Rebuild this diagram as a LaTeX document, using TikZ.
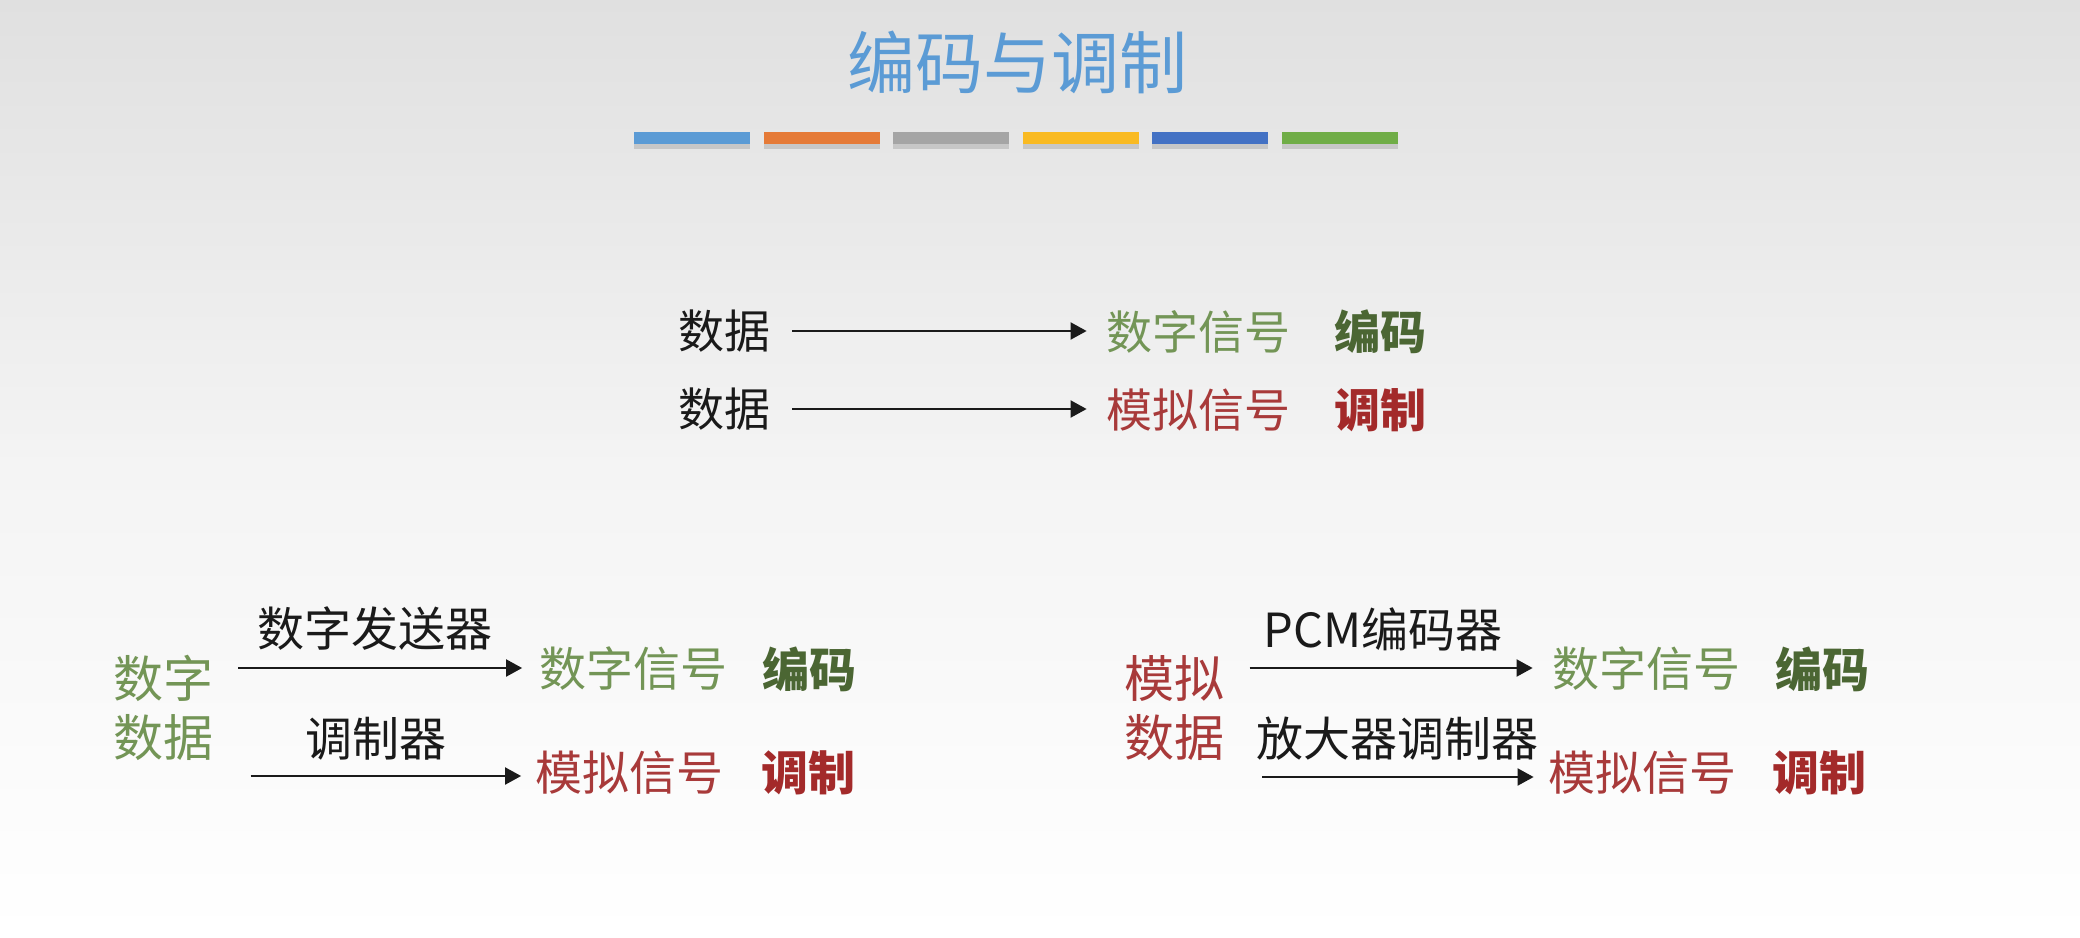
\documentclass[tikz,border=0pt]{standalone}
\usepackage{fontspec}
\setmainfont{Noto Sans CJK SC}
\usetikzlibrary{arrows.meta,shadows}
\definecolor{tblue}{HTML}{5B9BD5}
\definecolor{bar1}{HTML}{5B9BD5}
\definecolor{bar2}{HTML}{E57A37}
\definecolor{bar3}{HTML}{A5A5A5}
\definecolor{bar4}{HTML}{F9BA22}
\definecolor{bar5}{HTML}{4472C4}
\definecolor{bar6}{HTML}{70AD47}
\definecolor{sgreen}{HTML}{739556}
\definecolor{dgreen}{HTML}{4B6633}
\definecolor{sred}{HTML}{A83A3A}
\definecolor{dred}{HTML}{A32A2A}
\definecolor{ink}{HTML}{1A1A1A}
\begin{document}
\begin{tikzpicture}[x=0.5pt,y=-0.5pt,
  txt/.style={inner sep=0pt, text=ink, font=\fontsize{23.5}{28}\selectfont},
  toptxt/.style={txt, font=\fontsize{23}{28}\selectfont},
  side/.style={inner sep=0pt, font=\fontsize{25}{30}\selectfont},
  boldg/.style={txt, text=dgreen, font=\fontsize{23.5}{28}\selectfont\bfseries},
  boldr/.style={txt, text=dred, font=\fontsize{23.5}{28}\selectfont\bfseries},
  arr/.style={draw=ink, line width=1pt, -{Triangle[length=8pt,width=8.5pt]}},
  colbar/.style={draw=none, drop shadow={opacity=0.3, shadow xshift=0pt, shadow yshift=-2.5pt}}]
% background
\shade[top color={rgb,255:red,224;green,224;blue,224}, bottom color=white, middle color={rgb,255:red,244;green,244;blue,244}] (0,0) rectangle (2080,937);
\useasboundingbox (0,0) rectangle (2080,937);
% title
\node[inner sep=0pt, text=tblue, font=\fontsize{34}{40}\selectfont] (title) at (1017,62) {编码与调制};
% colour bars
\foreach \i/\c in {0/bar1,1/bar2,2/bar3,3/bar4,4/bar5,5/bar6}{
  \fill[colbar, fill=\c] ({634+\i*129.6},132) rectangle ({750+\i*129.6},144);
}
% top section
\node[toptxt] (d1) at (724,331) {数据};
\node[toptxt, text=sgreen] (s1) at (1198,332) {数字信号};
\node[boldg, font=\fontsize{23}{28}\selectfont\bfseries] (e1) at (1380,332) {编码};
\node[toptxt] (d2) at (724,409) {数据};
\node[toptxt, text=sred] (s2) at (1198,410) {模拟信号};
\node[boldr, font=\fontsize{23}{28}\selectfont\bfseries] (e2) at (1380,410) {调制};
\draw[arr, shorten <=11pt, shorten >=9.5pt] (d1.east) -- (d1.east -| s1.west);
\draw[arr, shorten <=11pt, shorten >=9.5pt] (d2.east) -- (d2.east -| s2.west);
% bottom left
\node[side, text=sgreen] (L1) at (163,678) {数字};
\node[side, text=sgreen] (L2) at (163,738) {数据};
\node[txt] (lb1) at (374.5,629) {数字发送器};
\node[txt] (lb2) at (375.7,739) {调制器};
\node[txt, text=sgreen] (s3) at (633.5,669) {数字信号};
\node[boldg] (e3) at (809,669) {编码};
\node[txt, text=sred] (s4) at (629.5,773) {模拟信号};
\node[boldr] (e4) at (808,773) {调制};
\coordinate (c1) at (238,668);
\coordinate (c2) at (250.7,776);
\draw[arr, shorten >=8.5pt] (c1) -- (c1 -| s3.west);
\draw[arr, shorten >=7pt] (c2) -- (c2 -| s4.west);
% bottom right
\node[side, text=sred] (R1) at (1174,678) {模拟};
\node[side, text=sred] (R2) at (1174,738) {数据};
\node[txt] (lb3) at (1383,629) {PCM编码器};
\node[txt] (lb4) at (1397,739) {放大器调制器};
\node[txt, text=sgreen] (s5) at (1646,669) {数字信号};
\node[boldg] (e5) at (1822,669) {编码};
\node[txt, text=sred] (s6) at (1642,773) {模拟信号};
\node[boldr] (e6) at (1819,773) {调制};
\coordinate (c3) at (1249.5,668);
\coordinate (c4) at (1262,777);
\draw[arr, shorten >=9.5pt] (c3) -- (c3 -| s5.west);
\draw[arr, shorten >=7pt] (c4) -- (c4 -| s6.west);
\end{tikzpicture}
\end{document}
